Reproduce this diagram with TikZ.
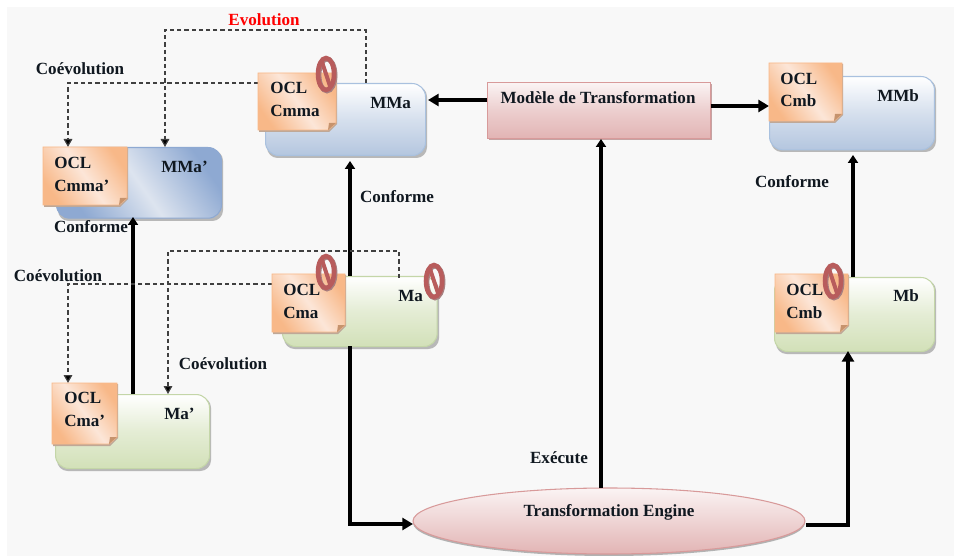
\documentclass[tikz,border=0pt]{standalone}
\usepackage{fontspec}
\setmainfont{Liberation Serif}
\usetikzlibrary{arrows.meta,shapes.geometric,shadings}
\definecolor{bgc}{HTML}{F8F8F8}
\definecolor{inkc}{HTML}{101820}
\definecolor{bluelo}{HTML}{B4C6DF}
\definecolor{bluee}{HTML}{A9C1DF}
\definecolor{blued}{HTML}{8EA9D2}
\definecolor{bluem}{HTML}{DDE4EF}
\definecolor{greenlo}{HTML}{D2E0B8}
\definecolor{greene}{HTML}{C4D6A8}
\definecolor{redlo}{HTML}{E2B4B4}
\definecolor{rede}{HTML}{D89A9A}
\definecolor{orangee}{HTML}{F8B888}
\definecolor{orangem}{HTML}{FCE6D8}
\definecolor{notc}{HTML}{B85C5C}
\definecolor{notd}{HTML}{A88080}
\tikzset{
  x=0.75pt,y=-0.75pt,
  txt/.style={font=\bfseries\fontsize{12.8}{15}\selectfont,text=inkc,inner sep=0pt},
  lbl/.style={txt},
  bluebox/.style={rounded corners=10pt,draw=bluee,line width=0.8pt,top color=white,bottom color=bluelo,middle color=bluelo!55!white},
  greenbox/.style={rounded corners=10pt,draw=greene,line width=0.8pt,top color=white,bottom color=greenlo,middle color=greenlo!60!white},
  darkbox/.style={rounded corners=10pt,draw=blued,line width=0.8pt,left color=blued,right color=blued,middle color=bluem,shading angle=125},
  redbox/.style={draw=rede,line width=0.8pt,top color=white!85!redlo,bottom color=redlo,middle color=redlo!65!white},
  note/.style={draw=orangee,line width=0.6pt,left color=orangee,right color=orangee,middle color=orangem,shading angle=125},
  solidarrow/.style={draw=black,line width=2.6pt,-{Triangle[length=8pt,width=9pt]}},
  thinarrow/.style={draw=black,line width=2.4pt,-{Triangle[length=6pt,width=7.5pt]}},
  dasharrow/.style={draw=black!75,line width=0.9pt,dash pattern=on 3.2pt off 2.2pt,-{Triangle[length=6pt,width=6.5pt,fill=black]}},
}
\newcommand{\boxshadow}[4]{\fill[black!28,rounded corners=8pt] (#1+2,#2+3) rectangle (#3+2,#4+3);}
\newcommand{\paper}[5]{%
  \fill[orangee!60!black!60] (#2+1,#3+1) -- (#4+1,#3+1) -- (#4+1,#5-6) -- (#4-7,#5+2) -- (#2+1,#5+2) -- cycle;
  \path[note] (#2,#3) -- (#4,#3) -- (#4,#5-7) -- (#4-8,#5) -- (#2,#5) -- cycle;
  \fill[orangee!80!black] (#4,#5-7) -- (#4-8,#5) -- (#4-7,#5-7) -- cycle;
  \coordinate (#1) at (#2,#3);
}
\newcommand{\forbid}[3]{%
  \draw[notd,line width=3.6pt] (#2+1,#3+1) ellipse[x radius=8,y radius=16];
  \node[name=#1,draw=notc,line width=3.4pt,ellipse,minimum width=12pt,minimum height=24pt,inner sep=0pt,fill=none] at (#2,#3) {};
  \draw[notc,line width=3pt] (#2-4,#3-12) -- (#2+4,#3+12);
}
\begin{document}
\begin{tikzpicture}
\useasboundingbox (0,0) rectangle (954,556);
\fill[white] (0,0) rectangle (954,556);
\fill[bgc] (7,7) rectangle (954,556);

\boxshadow{265}{83}{425}{155}
\node[bluebox,minimum width=120pt,minimum height=54pt,inner sep=0pt,anchor=north west] (mma) at (265,83) {};
\boxshadow{56}{147}{221}{218}
\node[darkbox,minimum width=123.7pt,minimum height=53pt,inner sep=0pt,anchor=north west] (mmap) at (56,147) {};
\boxshadow{769}{76}{934}{149}
\node[bluebox,minimum width=123.7pt,minimum height=55pt,inner sep=0pt,anchor=north west] (mmb) at (769,76) {};
\boxshadow{282}{276}{437}{346}
\node[greenbox,minimum width=116pt,minimum height=52.5pt,inner sep=0pt,anchor=north west] (ma) at (282,276) {};
\boxshadow{55}{394}{209}{468}
\node[greenbox,minimum width=115.5pt,minimum height=55.5pt,inner sep=0pt,anchor=north west] (map) at (55,394) {};
\boxshadow{774}{277}{934}{351}
\node[greenbox,minimum width=120pt,minimum height=55.5pt,inner sep=0pt,anchor=north west] (mb) at (774,277) {};
\fill[rede!80!black!70] (489,84) rectangle (712,140);
\node[redbox,minimum width=167pt,minimum height=42pt,inner sep=0pt,anchor=north west] (mt) at (487,82) {};
\fill[black!30] (609,523) ellipse[x radius=196,y radius=33];
\node[ellipse,draw=rede,line width=0.8pt,top color=white!85!redlo,bottom color=redlo,minimum width=294pt,minimum height=49.5pt,inner sep=0pt] (te) at (609,521) {};

\draw[solidarrow] (mt.west |- 0,100) -- (428,100);
\draw[solidarrow] (mt.east |- 0,106) -- (769,106);
\draw[thinarrow] (601,488) -- (601,139);
\draw[thinarrow] (350,276) -- (350,161);
\draw[thinarrow] (853,277) -- (853,155);
\draw[thinarrow] (133,394) -- (133,217);
\draw[solidarrow] (350,346) -- (350,524) -- (413,524);
\draw[solidarrow] (te.east |- 0,525) -- (848,525) -- (848,351);

\draw[dasharrow] (366,83) -- (366,30) -- (165,30) -- (165,147);
\draw[dasharrow] (258,83) -- (68,83) -- (68,147);
\draw[dasharrow] (399,278) -- (399,251) -- (168,251) -- (168,394);
\draw[dasharrow] (272,284) -- (68,284) -- (68,383);

\paper{pmma}{258}{73}{336}{130}
\paper{pmmap}{43}{147}{127}{205}
\paper{pmmb}{769}{63}{842}{121}
\paper{pma}{272}{274}{345}{332}
\paper{pmap}{52}{383}{117}{444}
\paper{pmb}{775}{274}{848}{332}

\forbid{s1}{326}{74}
\forbid{s2}{326}{272}
\forbid{s3}{434}{281}
\forbid{s4}{833}{281}

\node[txt,anchor=west] (t1) at (270,88) {OCL};
\node[txt,anchor=west] (t2) at (270,111) {Cmma};
\node[txt,anchor=west] (t3) at (370,103) {MMa};
\node[txt,anchor=west] (t4) at (54,163) {OCL};
\node[txt,anchor=west] (t5) at (54,186) {Cmma’};
\node[txt,anchor=west] (t6) at (161,167) {MMa’};
\node[txt,anchor=west] (t7) at (780,79) {OCL};
\node[txt,anchor=west] (t8) at (780,101) {Cmb};
\node[txt,anchor=west] (t9) at (877,96) {MMb};
\node[txt,anchor=west] (t10) at (283,290) {OCL};
\node[txt,anchor=west] (t11) at (283,313) {Cma};
\node[txt,anchor=west] (t12) at (398,296) {Ma};
\node[txt,anchor=west] (t13) at (64,398) {OCL};
\node[txt,anchor=west] (t14) at (64,421) {Cma’};
\node[txt,anchor=west] (t15) at (164,414) {Ma’};
\node[txt,anchor=west] (t16) at (786,290) {OCL};
\node[txt,anchor=west] (t17) at (786,313) {Cmb};
\node[txt,anchor=west] (t18) at (893,296) {Mb};
\node[txt] (t19) at (598,98) {Modèle de Transformation};
\node[txt] (t20) at (609,512) {Transformation Engine};

\node[lbl,text=red] (l1) at (264,20) {Evolution};
\node[lbl] (l2) at (80,69) {Coévolution};
\node[lbl] (l3) at (397,197) {Conforme};
\node[lbl] (l4) at (91,227) {Conforme};
\node[lbl] (l5) at (58,276) {Coévolution};
\node[lbl] (l6) at (223,364) {Coévolution};
\node[lbl] (l7) at (792,182) {Conforme};
\node[lbl] (l8) at (559,458) {Exécute};
\end{tikzpicture}
\end{document}
